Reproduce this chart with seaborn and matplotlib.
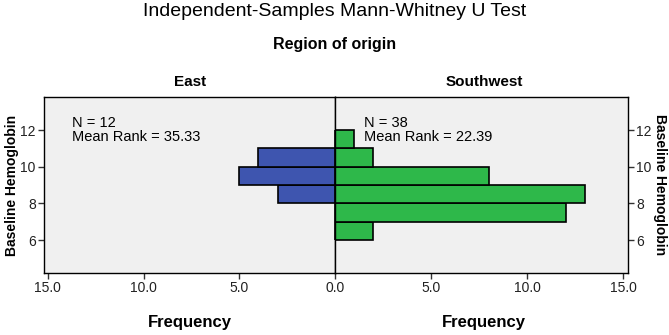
import numpy as np
import matplotlib
matplotlib.use("Agg")
import matplotlib.pyplot as plt
import seaborn as sns

# 数据：每个 bin 的频数
bin_edges = [6, 7, 8, 9, 10, 11, 12]
bin_mids = [6.5, 7.5, 8.5, 9.5, 10.5, 11.5]
east_counts = [0, 0, 3, 5, 4, 0]
southwest_counts = [2, 12, 13, 8, 2, 1]
groups = ["East", "Southwest"]
n_labels = ["N = 12", "N = 38"]
rank_labels = ["Mean Rank = 35.33", "Mean Rank = 22.39"]
freq_ticks = [0, 5, 10, 15]
hb_ticks = [6, 8, 10, 12]

sns.set_style("white")
plt.rcParams['font.family'] = ['Liberation Sans', 'DejaVu Sans']
plt.rcParams['text.color'] = 'black'

fig = plt.figure(figsize=(6.69, 3.35), dpi=100)
ax_l = fig.add_axes([0.0658, 0.185, 0.4349, 0.5254])
ax_r = fig.add_axes([0.5007, 0.185, 0.4380, 0.5254])

colors = ["#3E55AF", "#2EB84A"]
for ax, counts, col in zip([ax_l, ax_r], [east_counts, southwest_counts], colors):
    sns.histplot(y=bin_mids, weights=counts, bins=bin_edges, color=col, alpha=1,
                 edgecolor="black", linewidth=1.2, ax=ax)
    ax.set_facecolor("#F0F0F0")
    ax.set_ylim(4.2, 13.8)
    ax.set_yticks(hb_ticks)
    ax.set_xticks(freq_ticks)
    ax.set_xticklabels([f"{t:.1f}" for t in freq_ticks])
    ax.set_xlabel("")
    ax.set_ylabel("")
    for s in ax.spines.values():
        s.set_color("black")
        s.set_linewidth(1)
    ax.tick_params(axis="both", labelsize=10, length=4, width=1, color="#333333",
                   labelcolor="#222222", direction="out", bottom=True, pad=2)

ax_l.set_xlim(15.2, 0)
ax_r.set_xlim(0, 15.25)

ax_l.yaxis.tick_left()
ax_l.tick_params(axis="y", left=True)
ax_r.yaxis.tick_right()
ax_r.tick_params(axis="y", right=True, left=False)

# 去掉左图 0.0，避免与右图重复
ax_l.set_xticks([5, 10, 15])
ax_l.set_xticklabels(["5.0", "10.0", "15.0"])

for ax, g, n, r, x0, xc in zip([ax_l, ax_r], groups, n_labels, rank_labels,
                               [0.095, 0.1], [190 / 669, 484 / 669]):
    ax.text(x0, 0.89, n + "\n" + r, transform=ax.transAxes,
            fontsize=10.5, va="top", ha="left", linespacing=0.95)
    fig.text(xc, 1 - 82 / 335, g, ha="center", va="center", fontsize=11, fontweight="bold")
    fig.text(xc, 1 - 323 / 335, "Frequency", ha="center", va="center", fontsize=12, fontweight="bold")

fig.text(12 / 669, 1 - 185 / 335, "Baseline Hemoglobin", rotation=90, ha="center", va="center",
         fontsize=10, fontweight="bold")
fig.text(660 / 669, 1 - 185 / 335, "Baseline Hemoglobin", rotation=-90, ha="center", va="center",
         fontsize=10, fontweight="bold")

fig.text(0.5, 1 - 12 / 335, "Independent-Samples Mann-Whitney U Test", ha="center", va="center", fontsize=14)
fig.text(0.5, 1 - 44 / 335, "Region of origin", ha="center", va="center", fontsize=11.5, fontweight="bold")

fig.savefig("out.png", dpi=100)
